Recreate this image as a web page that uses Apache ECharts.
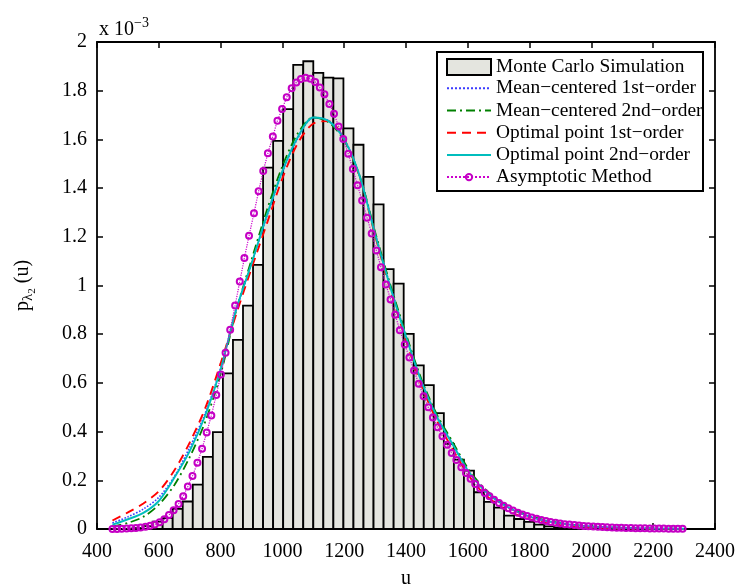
<!DOCTYPE html>
<html>
<head>
<meta charset="utf-8">
<script src="https://cdn.jsdelivr.net/npm/echarts@6/dist/echarts.min.js"></script>
<style>html,body{margin:0;padding:0;background:#fff}#c{width:738px;height:586px}</style>
</head>
<body>
<div id="c"></div>
<script>
// ---- data (densities in units of 1e-3) ----
const xTicks = [400, 600, 800, 1000, 1200, 1400, 1600, 1800, 2000, 2200, 2400];
const yTicks = [0, 0.2, 0.4, 0.6, 0.8, 1, 1.2, 1.4, 1.6, 1.8, 2];
const binStart = 450;
const binWidth = 32.5;
const histHeights = [0.0003, 0.001, 0.004, 0.012, 0.030, 0.045, 0.083, 0.113, 0.182, 0.296,
  0.398, 0.639, 0.777, 0.917, 1.085, 1.484, 1.594, 1.724, 1.906, 1.921,
  1.873, 1.854, 1.851, 1.645, 1.578, 1.446, 1.333, 1.067, 1.008, 0.801,
  0.672, 0.591, 0.476, 0.350, 0.285, 0.240, 0.151, 0.111, 0.088, 0.055,
  0.041, 0.029, 0.018, 0.011, 0.006, 0.004, 0.003, 0.002, 0.0015, 0.001,
  0.0008, 0.0005, 0.0004, 0.0003, 0.0002, 0.0002, 0.0001];

const curveU = [450, 500, 550, 600, 650, 700, 750, 800, 850, 900, 950, 1000, 1050, 1100, 1150, 1200,
  1250, 1300, 1350, 1400, 1450, 1500, 1550, 1600, 1650, 1700, 1750, 1800, 1850, 1900, 1950, 2000,
  2050, 2100, 2150, 2200, 2250, 2300];
const meanCentered1 = [0.025, 0.050, 0.082, 0.130, 0.215, 0.335, 0.475, 0.660, 0.895, 1.090, 1.285, 1.465,
  1.605, 1.688, 1.676, 1.602, 1.452, 1.215, 0.995, 0.792, 0.607, 0.462, 0.352, 0.242, 0.165, 0.113,
  0.077, 0.052, 0.035, 0.023, 0.015, 0.010, 0.007, 0.005, 0.003, 0.002, 0.0015, 0.001];
const meanCentered2 = [0.010, 0.025, 0.050, 0.100, 0.180, 0.295, 0.440, 0.635, 0.895, 1.105, 1.310, 1.490,
  1.625, 1.690, 1.670, 1.595, 1.450, 1.220, 1.000, 0.800, 0.615, 0.470, 0.360, 0.250, 0.172, 0.118,
  0.080, 0.054, 0.036, 0.024, 0.016, 0.011, 0.007, 0.005, 0.003, 0.002, 0.0015, 0.001];
const optimal1 = [0.035, 0.068, 0.105, 0.155, 0.240, 0.355, 0.495, 0.680, 0.880, 1.070, 1.255, 1.440,
  1.585, 1.665, 1.675, 1.600, 1.445, 1.205, 0.980, 0.775, 0.590, 0.445, 0.330, 0.225, 0.148, 0.097,
  0.063, 0.040, 0.025, 0.016, 0.010, 0.006, 0.004, 0.002, 0.0015, 0.001, 0.0005, 0.0003];
const optimal2 = [0.018, 0.040, 0.066, 0.115, 0.210, 0.320, 0.465, 0.655, 0.900, 1.090, 1.290, 1.470,
  1.610, 1.690, 1.675, 1.600, 1.450, 1.210, 0.990, 0.790, 0.605, 0.460, 0.350, 0.240, 0.163, 0.112,
  0.076, 0.051, 0.034, 0.023, 0.015, 0.010, 0.007, 0.005, 0.003, 0.002, 0.0015, 0.001];

const asymU = [450, 465, 480, 496, 511, 526, 541, 557, 572, 587, 603, 618, 633, 648, 664, 679, 694, 709,
  725, 740, 755, 770, 786, 801, 816, 831, 847, 862, 877, 892, 908, 923, 938, 953, 969, 984, 999, 1014,
  1030, 1045, 1060, 1075, 1091, 1106, 1121, 1136, 1152, 1167, 1182, 1197, 1213, 1228, 1243, 1258,
  1274, 1289, 1304, 1319, 1335, 1350, 1365, 1380, 1396, 1411, 1426, 1441, 1457, 1472, 1487, 1502,
  1518, 1533, 1548, 1563, 1579, 1594, 1609, 1624, 1640, 1655, 1670, 1685, 1701, 1716, 1731, 1746,
  1762, 1777, 1792, 1807, 1823, 1838, 1853, 1868, 1884, 1899, 1914, 1929, 1945, 1960, 1975, 1990,
  2006, 2021, 2036, 2051, 2067, 2082, 2097, 2112, 2128, 2143, 2158, 2173, 2189, 2204, 2219, 2234,
  2250, 2265, 2280, 2295];
const asymP = [0.0002, 0.0005, 0.001, 0.002, 0.003, 0.004, 0.006, 0.009, 0.013, 0.018, 0.028, 0.040,
  0.058, 0.077, 0.103, 0.135, 0.175, 0.218, 0.272, 0.330, 0.396, 0.466, 0.550, 0.634, 0.724, 0.818,
  0.918, 1.016, 1.113, 1.204, 1.297, 1.387, 1.470, 1.543, 1.612, 1.677, 1.725, 1.773, 1.810, 1.834,
  1.848, 1.853, 1.849, 1.836, 1.813, 1.785, 1.745, 1.705, 1.653, 1.602, 1.541, 1.478, 1.412, 1.349,
  1.278, 1.214, 1.144, 1.075, 1.004, 0.943, 0.880, 0.816, 0.758, 0.704, 0.651, 0.597, 0.545, 0.500,
  0.458, 0.418, 0.381, 0.346, 0.312, 0.283, 0.254, 0.230, 0.206, 0.185, 0.166, 0.148, 0.134, 0.120,
  0.107, 0.095, 0.085, 0.076, 0.067, 0.060, 0.053, 0.047, 0.042, 0.037, 0.033, 0.029, 0.026, 0.023,
  0.020, 0.018, 0.016, 0.014, 0.012, 0.011, 0.010, 0.009, 0.008, 0.007, 0.006, 0.0055, 0.005, 0.0045,
  0.004, 0.0035, 0.003, 0.0027, 0.0024, 0.0021, 0.0019, 0.0017, 0.0015, 0.0013, 0.0012, 0.001];

const seriesNames = ['Monte Carlo Simulation', 'Mean\u2212centered 1st\u2212order', 'Mean\u2212centered 2nd\u2212order',
  'Optimal point 1st\u2212order', 'Optimal point 2nd\u2212order', 'Asymptotic Method'];

// ---- build ----
const FONT = 'Liberation Serif';
const histData = histHeights.map((h, i) => [binStart + i * binWidth, binStart + (i + 1) * binWidth, h]);
const pair = (xs, ys) => xs.map((x, i) => [x, ys[i]]);
const BAR_FILL = '#e4e5df';
const MAGENTA = '#c400c4';

const chart = echarts.init(document.getElementById('c'), null, {renderer: 'canvas'});
const axisCommon = {
  type: 'value', min: 400, max: 2400, interval: 200,
  axisLine: {show: true, onZero: false, lineStyle: {color: '#000', width: 1.8}},
  axisTick: {show: true, inside: true, length: 6, lineStyle: {color: '#000', width: 1.5}},
  splitLine: {show: false}
};
const yCommon = {
  type: 'value', min: 0, max: 2, interval: 0.2,
  axisLine: {show: true, onZero: false, lineStyle: {color: '#000', width: 1.8}},
  axisTick: {show: true, inside: true, length: 6, lineStyle: {color: '#000', width: 1.5}},
  splitLine: {show: false}
};

function lineSeries(name, data, color, type, width) {
  return {
    name, type: 'line', data, smooth: 0.3, symbol: 'none', showSymbol: false, silent: true,
    lineStyle: {color, type, width}, itemStyle: {color}, z: 3
  };
}
const hiddenSymbol = {opacity: 0, borderWidth: 0};

const option = {
  animation: false,
  backgroundColor: '#fff',
  grid: {left: 97, right: 23, top: 42, bottom: 57, containLabel: false, outerBoundsMode: 'none'},
  title: {
    text: '{a|x 10}{b|\u22123}', left: 94, top: 11,
    textStyle: {fontWeight: 'normal', rich: {
      a: {fontFamily: FONT, fontSize: 20, color: '#000', fontWeight: 'normal'},
      b: {fontFamily: FONT, fontSize: 14, color: '#000', fontWeight: 'normal', padding: [0, 0, 14, 0]}
    }}
  },
  xAxis: [
    Object.assign({}, axisCommon, {
      position: 'bottom', name: 'u', nameLocation: 'middle', nameGap: 40,
      nameTextStyle: {fontFamily: FONT, fontSize: 20, color: '#000'},
      axisLabel: {fontFamily: FONT, fontSize: 20, color: '#000', margin: 13,
        formatter: v => xTicks.indexOf(v) >= 0 ? String(v) : ''}
    }),
    Object.assign({}, axisCommon, {position: 'top', axisLabel: {show: false}})
  ],
  yAxis: [
    Object.assign({}, yCommon, {
      position: 'left',
      name: '{p|p}{s|\u03bb}{t|2}{p| (u)}', nameLocation: 'middle', nameRotate: 90, nameGap: 59,
      nameTextStyle: {fontFamily: FONT, fontSize: 20, color: '#000', rich: {
        p: {fontFamily: FONT, fontSize: 20, color: '#000'},
        s: {fontFamily: FONT, fontSize: 15, color: '#000', padding: [12, 0, 0, 0]},
        t: {fontFamily: FONT, fontSize: 11, color: '#000', padding: [20, 0, 0, 0]}
      }},
      axisLabel: {fontFamily: FONT, fontSize: 20, color: '#000', margin: 10,
        formatter: v => { const t = yTicks.find(k => Math.abs(k - v) < 1e-9); return t === undefined ? '' : String(t); }}
    }),
    Object.assign({}, yCommon, {position: 'right', axisLabel: {show: false}})
  ],
  graphic: [{
    type: 'rect', z: 50, zlevel: 0,
    shape: {x: 437, y: 52, width: 266, height: 139},
    style: {fill: '#fff', stroke: '#000', lineWidth: 2}
  }],
  legend: [
    {
      z: 60, left: 446, top: 57, orient: 'vertical', padding: 0, itemGap: 2.2,
      itemWidth: 44, itemHeight: 16, selectedMode: false,
      textStyle: {fontFamily: FONT, fontSize: 19.4, color: '#000', lineHeight: 20},
      data: [{name: seriesNames[0], icon: 'rect',
        itemStyle: {color: BAR_FILL, borderColor: '#000', borderWidth: 2}}]
    },
    {
      z: 60, left: 446, top: 78.3, orient: 'vertical', padding: 0, itemGap: 2.2,
      itemWidth: 44, itemHeight: 8, selectedMode: false,
      textStyle: {fontFamily: FONT, fontSize: 19.4, color: '#000', lineHeight: 20},
      data: [
        {name: seriesNames[1], itemStyle: hiddenSymbol},
        {name: seriesNames[2], itemStyle: hiddenSymbol},
        {name: seriesNames[3], itemStyle: hiddenSymbol},
        {name: seriesNames[4], itemStyle: hiddenSymbol},
        {name: seriesNames[5]}
      ]
    }
  ],
  series: [
    {
      name: seriesNames[0], type: 'custom', silent: true, z: 2,
      itemStyle: {color: BAR_FILL, borderColor: '#000'},
      encode: {x: [0, 1], y: 2},
      data: histData,
      renderItem: (params, api) => {
        const p0 = api.coord([api.value(0), api.value(2)]);
        const p1 = api.coord([api.value(1), 0]);
        return {type: 'rect', shape: {x: p0[0], y: p0[1], width: p1[0] - p0[0], height: p1[1] - p0[1]},
          style: {fill: BAR_FILL, stroke: '#000', lineWidth: 1.8}};
      }
    },
    lineSeries(seriesNames[1], pair(curveU, meanCentered1), '#3b3bff', 'dotted', 1.6),
    lineSeries(seriesNames[2], pair(curveU, meanCentered2), '#008000', [9, 4, 2, 4], 1.8),
    lineSeries(seriesNames[3], pair(curveU, optimal1), '#ff0000', [9, 6], 1.9),
    lineSeries(seriesNames[4], pair(curveU, optimal2), '#00bdbd', 'solid', 1.9),
    {
      name: seriesNames[5], type: 'line', data: pair(asymU, asymP), smooth: false, silent: true, z: 4,
      symbol: 'circle', symbolSize: 6, showSymbol: true, showAllSymbol: true,
      lineStyle: {color: '#cc00cc', type: 'dotted', width: 1.2},
      itemStyle: {color: 'rgba(255,255,255,0)', borderColor: MAGENTA, borderWidth: 2}
    }
  ]
};
chart.setOption(option);
</script>
</body>
</html>
